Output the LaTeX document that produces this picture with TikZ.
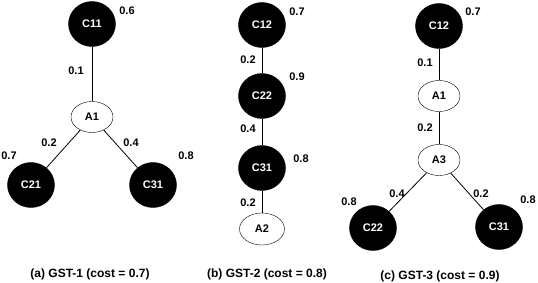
\documentclass[tikz,border=0pt]{standalone}
\usepackage{fontspec}
\setmainfont{Liberation Sans}
\usetikzlibrary{shapes.geometric}
\begin{document}
\begin{tikzpicture}[x=1pt,y=-1pt,
  cnode/.style={ellipse,draw=black,fill=black,text=white,minimum width=47pt,minimum height=45pt,inner sep=0pt,font=\bfseries\fontsize{11}{13}\selectfont},
  anode/.style={ellipse,draw=black,fill=white,text=black,minimum width=42pt,minimum height=31pt,inner sep=0pt,font=\bfseries\fontsize{11}{13}\selectfont},
  lbl/.style={font=\bfseries\fontsize{11}{13}\selectfont,inner sep=0pt},
  captxt/.style={font=\bfseries\fontsize{12}{14}\selectfont,inner sep=0pt},
  conn/.style={draw=black,line width=0.8pt}]
\useasboundingbox (0,0) rectangle (538,282);
% (a)
\node[cnode] (a11) at (92,24) {C11};
\node[anode] (aa1) at (92,117) {A1};
\node[cnode] (a21) at (31,185) {C21};
\node[cnode] (a31) at (153,185) {C31};
\draw[conn] (a11) -- (aa1);
\draw[conn] (aa1) -- (a21);
\draw[conn] (aa1) -- (a31);
\node[lbl] (la1) at (127,11) {0.6};
\node[lbl] (la2) at (76,71) {0.1};
\node[lbl] (la3) at (49,143) {0.2};
\node[lbl] (la4) at (131,143) {0.4};
\node[lbl] (la5) at (9,156) {0.7};
\node[lbl] (la6) at (186,156) {0.8};
\node[captxt] (capa) at (90,274) {(a) GST-1 (cost = 0.7)};
% (b)
\node[cnode] (b12) at (262,25) {C12};
\node[cnode] (b22) at (262,96) {C22};
\node[cnode] (b31) at (262,168) {C31};
\node[anode,minimum width=45pt,minimum height=32pt] (ba2) at (262,229) {A2};
\draw[conn] (b12) -- (b22);
\draw[conn] (b22) -- (b31);
\draw[conn] (b31) -- (ba2);
\node[lbl] (lb1) at (297,12) {0.7};
\node[lbl] (lb2) at (248,60) {0.2};
\node[lbl] (lb3) at (297,77) {0.9};
\node[lbl] (lb4) at (248,129) {0.4};
\node[lbl] (lb5) at (301,159) {0.8};
\node[lbl] (lb6) at (248,203) {0.2};
\node[captxt] (capb) at (267,274) {(b) GST-2 (cost = 0.8)};
% (c)
\node[cnode] (c12) at (439,26) {C12};
\node[anode] (ca1) at (439,96) {A1};
\node[anode] (ca3) at (439,160) {A3};
\node[cnode] (c22) at (373,228) {C22};
\node[cnode] (c31) at (499,227) {C31};
\draw[conn] (c12) -- (ca1);
\draw[conn] (ca1) -- (ca3);
\draw[conn] (ca3) -- (c22);
\draw[conn] (ca3) -- (c31);
\node[lbl] (lc1) at (473,12) {0.7};
\node[lbl] (lc2) at (425,63) {0.1};
\node[lbl] (lc3) at (425,128) {0.2};
\node[lbl] (lc4) at (397,194) {0.4};
\node[lbl] (lc5) at (481,194) {0.2};
\node[lbl] (lc6) at (349,202) {0.8};
\node[lbl] (lc7) at (528,200) {0.8};
\node[captxt] (capc) at (440,276) {(c) GST-3 (cost = 0.9)};
\end{tikzpicture}
\end{document}
